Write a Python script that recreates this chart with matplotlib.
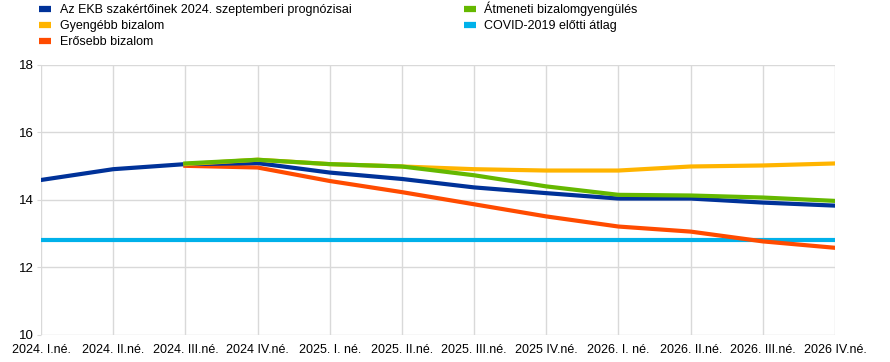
import matplotlib.pyplot as plt
import matplotlib as mpl

mpl.rcParams['font.family'] = ['Liberation Sans', 'DejaVu Sans']

## DATA
quarters = ['2024. I.né.', '2024. II.né.', '2024. III.né.', '2024 IV.né.',
            '2025. I. né.', '2025. II.né.', '2025. III.né.', '2025 IV.né.',
            '2026. I. né.', '2026. II.né.', '2026. III.né.', '2026 IV.né.']
baseline = [14.58, 14.9, 15.05, 15.08, 14.8, 14.61, 14.36, 14.19, 14.03, 14.03, 13.91, 13.82]
weaker = [None, None, 15.05, 15.18, 15.05, 14.98, 14.9, 14.86, 14.86, 14.98, 15.01, 15.07]
stronger = [None, None, 15.0, 14.95, 14.55, 14.22, 13.86, 13.5, 13.2, 13.05, 12.76, 12.57]
transition = [None, None, 15.07, 15.18, 15.05, 14.98, 14.72, 14.39, 14.14, 14.12, 14.06, 13.96]
precovid = [12.8] * len(quarters)

labels = ['Az EKB szakértőinek 2024. szeptemberi prognózisai', 'Gyengébb bizalom',
          'Erősebb bizalom', 'Átmeneti bizalomgyengülés', 'COVID-2019 előtti átlag']
colors = ['#003299', '#ffb400', '#ff4b00', '#65b800', '#00b1ea']


def xy(vals):
    pts = [(i, v) for i, v in enumerate(vals) if v is not None]
    return [p[0] for p in pts], [p[1] for p in pts]


fig = plt.figure(figsize=(8.9, 3.62), dpi=100)
ax = fig.add_axes([41 / 890, 1 - 334.5 / 362, 794 / 890, 269.9 / 362])

lw = 3.0
h_cyan, = ax.plot(*xy(precovid), color=colors[4], lw=lw, zorder=3)
h_or, = ax.plot(*xy(stronger), color=colors[2], lw=lw, zorder=4)
h_bl, = ax.plot(*xy(baseline), color=colors[0], lw=lw, zorder=5)
h_ye, = ax.plot(*xy(weaker), color=colors[1], lw=lw, zorder=5)
h_gr, = ax.plot(*xy(transition), color=colors[3], lw=lw, zorder=6)

ax.set_xlim(0, 11)
ax.set_ylim(10, 18)
ax.set_xticks(range(len(quarters)))
ax.set_xticklabels(quarters, fontsize=9)
ax.set_yticks([10, 12, 14, 16, 18])
ax.tick_params(axis='y', labelsize=9.5, length=3, color='#d9d9d9', pad=2)
ax.tick_params(axis='x', length=0, pad=7)
ax.grid(True, color='#d9d9d9', lw=1)
for s in ax.spines.values():
    s.set_visible(False)
ax.set_axisbelow(True)

leg = fig.legend([h_bl, h_ye, h_or, h_gr, h_cyan], labels, ncol=2, frameon=False,
                 loc='upper left', bbox_to_anchor=(39 / 890, 1 - 2 / 362), fontsize=9,
                 handlelength=0.95, handletextpad=0.7, columnspacing=9.0,
                 labelspacing=0.3, borderaxespad=0.0, borderpad=0.0)
for h in leg.legend_handles:
    h.set_linewidth(4.5)
    h.set_solid_capstyle('butt')

fig.savefig('out.png', dpi=100)
